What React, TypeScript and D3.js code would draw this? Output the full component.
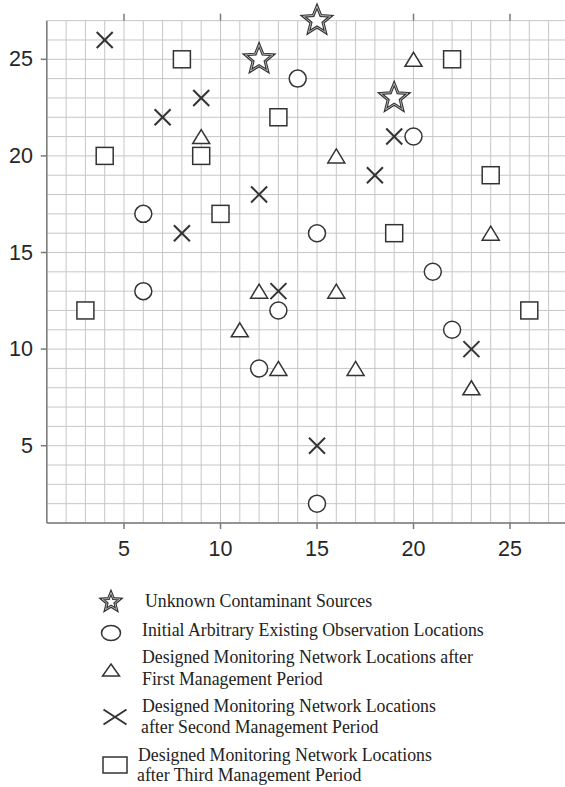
import React from 'react';
import * as d3 from 'd3';

// ---- data ----
const sourcePoints: [number, number][] = [[12, 25], [15, 27], [19, 23]];
const initialPoints: [number, number][] = [
  [14, 24], [20, 21], [6, 17], [15, 16], [21, 14], [6, 13], [13, 12], [22, 11], [12, 9], [15, 2],
];
const firstPeriodPoints: [number, number][] = [
  [20, 25], [9, 21], [16, 20], [24, 16], [12, 13], [16, 13], [11, 11], [13, 9], [17, 9], [23, 8],
];
const secondPeriodPoints: [number, number][] = [
  [4, 26], [9, 23], [7, 22], [19, 21], [18, 19], [12, 18], [8, 16], [13, 13], [23, 10], [15, 5],
];
const thirdPeriodPoints: [number, number][] = [
  [8, 25], [22, 25], [13, 22], [4, 20], [9, 20], [24, 19], [10, 17], [19, 16], [3, 12], [26, 12],
];
const xTicks = [5, 10, 15, 20, 25];
const yTicks = [5, 10, 15, 20, 25];
const gridValues = d3.range(1, 28);
const legendLabels: string[][] = [
  ['Unknown Contaminant Sources'],
  ['Initial Arbitrary Existing Observation Locations'],
  ['Designed Monitoring Network Locations after', 'First Management Period'],
  ['Designed Monitoring Network Locations', 'after Second Management Period'],
  ['Designed Monitoring Network Locations', 'after Third Management Period'],
];

// ---- layout ----
const W = 565;
const H = 787;
const x = d3.scaleLinear().domain([5, 25]).range([124, 510]);
const y = d3.scaleLinear().domain([5, 25]).range([445.7, 59.3]);
const xMin = 1, xMax = 27, yMin = 1, yMax = 27;
const plotRight = 565;

const INK = '#333';
const GRID = '#c6c6c6';
const AXIS = '#7a7a7a';

const radial = d3
  .lineRadial<[number, number]>()
  .angle((d) => d[0])
  .radius((d) => d[1])
  .curve(d3.curveLinearClosed);
function starPath(r: number, ri: number) {
  const pts: [number, number][] = d3.range(10).map((i) => [(i * Math.PI) / 5, i % 2 === 0 ? r : ri]);
  return radial(pts) as string;
}
const poly = d3.line<[number, number]>().curve(d3.curveLinearClosed);
function trianglePath(w: number, h: number) {
  return poly([[0, -h / 2], [w / 2, h / 2], [-w / 2, h / 2]]) as string;
}

function Star({ cx, cy, r }: { cx: number; cy: number; r: number }) {
  const d = starPath(r, r * 0.44);
  return (
    <g transform={`translate(${cx},${cy})`}>
      <path d={d} fill="white" stroke={INK} strokeWidth={3} strokeLinejoin="miter" />
      <path d={d} fill="none" stroke="#bdbdbd" strokeWidth={0.9} />
    </g>
  );
}
function Cross({ cx, cy, w, h, sw }: { cx: number; cy: number; w: number; h: number; sw: number }) {
  return (
    <g transform={`translate(${cx},${cy})`} stroke={INK} strokeWidth={sw}>
      <line x1={-w / 2} y1={-h / 2} x2={w / 2} y2={h / 2} />
      <line x1={-w / 2} y1={h / 2} x2={w / 2} y2={-h / 2} />
    </g>
  );
}

export default function App() {
  const top = y(yMax);
  const bottom = y(yMin);
  const left = x(xMin);
  const legendBaselines = [[607], [636], [663, 685], [712, 733], [761, 781]];
  const legendTextX = [[145], [142], [142, 142], [142, 141], [138, 137]];
  const serif = "'Liberation Serif', 'Times New Roman', serif";
  return (
    <svg
      width={W}
      height={H}
      viewBox={`0 0 ${W} ${H}`}
      style={{ position: 'absolute', left: 0, top: 0, background: 'white' }}
    >
      {/* grid */}
      <g stroke={GRID} strokeWidth={1}>
        {gridValues.map((v) => (
          <line key={'v' + v} x1={x(v)} x2={x(v)} y1={top} y2={bottom} />
        ))}
        {gridValues.map((v) => (
          <line key={'h' + v} x1={left} x2={plotRight} y1={y(v)} y2={y(v)} />
        ))}
      </g>
      {/* axes */}
      <g stroke={AXIS} strokeWidth={1.5}>
        <line x1={left} x2={left} y1={top} y2={bottom} />
        <line x1={left} x2={plotRight} y1={bottom} y2={bottom} />
        {xTicks.map((t) => (
          <line key={'bt' + t} x1={x(t)} x2={x(t)} y1={bottom} y2={bottom + 6} />
        ))}
        {xTicks.map((t) => (
          <line key={'tt' + t} x1={x(t)} x2={x(t)} y1={top} y2={top - 7} />
        ))}
        {yTicks.map((t) => (
          <line key={'lt' + t} x1={left - 6} x2={left} y1={y(t)} y2={y(t)} />
        ))}
      </g>
      <g fontFamily="'Liberation Sans', Arial, sans-serif" fontSize={21.5} fill="#262626">
        {xTicks.map((t) => (
          <text key={'xl' + t} x={x(t)} y={555.5} textAnchor="middle">
            {t}
          </text>
        ))}
        {yTicks.map((t) => (
          <text key={'yl' + t} x={33} y={y(t) + 7} textAnchor="end">
            {t}
          </text>
        ))}
      </g>
      {/* marks */}
      <g fill="white" stroke={INK} strokeWidth={1.5}>
        {initialPoints.map((p, i) => (
          <circle key={'c' + i} cx={x(p[0])} cy={y(p[1])} r={8.5} />
        ))}
        {firstPeriodPoints.map((p, i) => (
          <path key={'t' + i} d={trianglePath(17, 14)} transform={`translate(${x(p[0])},${y(p[1])})`} />
        ))}
        {thirdPeriodPoints.map((p, i) => (
          <rect key={'s' + i} x={x(p[0]) - 8.5} y={y(p[1]) - 8.5} width={17} height={17} />
        ))}
      </g>
      {secondPeriodPoints.map((p, i) => (
        <Cross key={'x' + i} cx={x(p[0])} cy={y(p[1])} w={16} h={16} sw={2} />
      ))}
      {sourcePoints.map((p, i) => (
        <Star key={'st' + i} cx={x(p[0])} cy={y(p[1])} r={14.5} />
      ))}
      {/* legend */}
      <Star cx={111} cy={602} r={9.5} />
      <ellipse cx={111} cy={633} rx={9.5} ry={7.5} fill="white" stroke={INK} strokeWidth={1.5} />
      <path d={trianglePath(17, 12)} transform="translate(111,670)" fill="white" stroke={INK} strokeWidth={1.5} />
      <Cross cx={115} cy={717} w={23} h={15} sw={2} />
      <rect x={103} y={757} width={24} height={16} fill="white" stroke={INK} strokeWidth={1.5} />
      <g fontFamily={serif} fontSize={17.8} fill="#222">
        {legendLabels.map((lines, i) =>
          lines.map((s, j) => (
            <text key={i + '-' + j} x={legendTextX[i][j]} y={legendBaselines[i][j]}>
              {s}
            </text>
          ))
        )}
      </g>
    </svg>
  );
}
